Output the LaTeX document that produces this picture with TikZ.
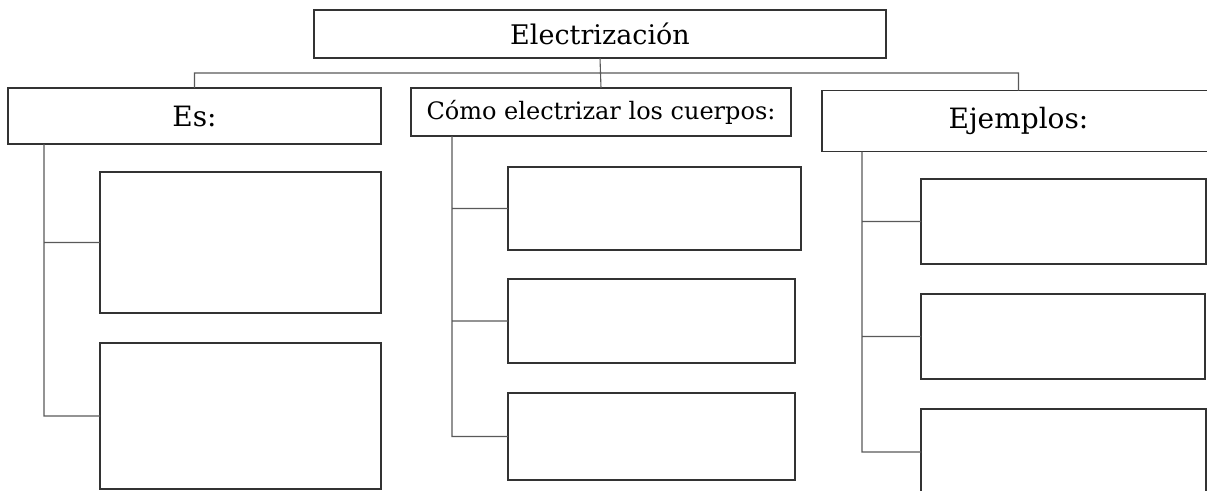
\documentclass[tikz,border=0pt]{standalone}
\usepackage{fontspec}
\setmainfont{DejaVu Serif}

\begin{document}
\begin{tikzpicture}[x=1pt, y=-1pt,
    box/.style = {draw=black!80, line width=1.1pt, inner sep=0pt, outer sep=0pt},
    title/.style = {box, font=\fontsize{27}{32}\selectfont},
    link/.style = {draw=black!65, line width=1.1pt}]
  \useasboundingbox (0,0) rectangle (1207,490);
  \clip (0,0) rectangle (1207,490);
  % headers
  \node[title, minimum width=572, minimum height=48] (top) at (600,34) {Electrización};
  \node[title, minimum width=373, minimum height=56, font=\fontsize{28}{32}\selectfont] (es) at (194.5,116) {Es:};
  \node[title, minimum width=380, minimum height=48, font=\fontsize{24}{30}\selectfont] (como) at (601,112) {Cómo electrizar los cuerpos:};
  \node[title, minimum width=393, minimum height=61, font=\fontsize{28}{32}\selectfont] (ejem) at (1018.5,121) {Ejemplos:};
  % empty boxes
  \node[box, minimum width=281, minimum height=141] (es1) at (240.5,242.5) {};
  \node[box, minimum width=281, minimum height=146] (es2) at (240.5,416) {};
  \node[box, minimum width=293, minimum height=83] (como1) at (654.5,208.5) {};
  \node[box, minimum width=287, minimum height=84] (como2) at (651.5,321) {};
  \node[box, minimum width=287, minimum height=87] (como3) at (651.5,436.5) {};
  \node[box, minimum width=285, minimum height=85] (ejem1) at (1063.5,221.5) {};
  \node[box, minimum width=284, minimum height=85] (ejem2) at (1063,336.5) {};
  \node[box, minimum width=285, minimum height=86] (ejem3) at (1063.5,452) {};
  \coordinate (bus) at (0,73);
  \coordinate (esline) at (44,0);
  \coordinate (comoline) at (452,0);
  \coordinate (ejemline) at (862,0);
  \path[link]
  (top.south) -- (como.north)
  (es.north) |- (bus -| ejem.north) -- (ejem.north)
  (es.south -| esline) |- (es2.west)
  (es1.west -| esline) -- (es1.west)
  (como.south -| comoline) |- (como3.west)
  (como1.west -| comoline) -- (como1.west)
  (como2.west -| comoline) -- (como2.west)
  (ejem.south -| ejemline) |- (ejem3.west)
  (ejem1.west -| ejemline) -- (ejem1.west)
  (ejem2.west -| ejemline) -- (ejem2.west);
\end{tikzpicture}
\end{document}
